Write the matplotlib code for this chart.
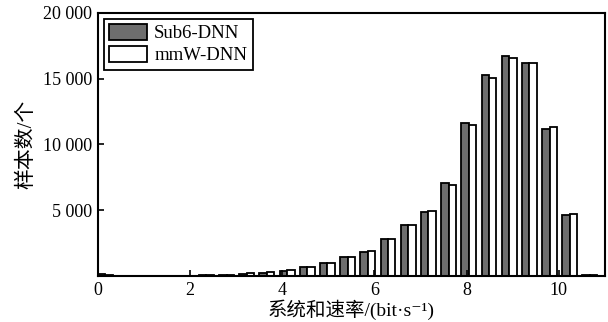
import numpy as np
import matplotlib
matplotlib.use('Agg')
import matplotlib.pyplot as plt

plt.rcParams['font.family'] = ['Liberation Serif', 'Noto Sans CJK SC', 'DejaVu Sans']
plt.rcParams['font.size'] = 13

# histogram data: 25 bins over the sum-rate range
bin_width = 0.438
n_bins = 25
sub6_counts = [150, 0, 0, 0, 20, 50, 100, 180, 250, 380, 680, 1010, 1420, 1800, 2790,
               3850, 4870, 7050, 11660, 15280, 16750, 16170, 11180, 4610, 60]
mmw_counts = [100, 0, 0, 0, 30, 60, 110, 190, 280, 430, 680, 1010, 1420, 1870, 2840,
              3850, 4920, 6950, 11480, 15080, 16600, 16170, 11300, 4710, 100]
series_names = ['Sub6-DNN', 'mmW-DNN']
x_ticks = [0, 2, 4, 6, 8, 10]
y_ticks = [5000, 10000, 15000, 20000]
y_tick_labels = ['5 000', '10 000', '15 000', '20 000']

edges = np.arange(n_bins) * bin_width
bw = 0.37 * bin_width

fig = plt.figure(figsize=(6.08, 3.22), dpi=100)
ax = fig.add_axes([0.161, 0.143, 0.834, 0.817])

ax.bar(edges + bw / 2, sub6_counts, width=bw, color='#6e6e6e', edgecolor='black',
       linewidth=1.3, label=series_names[0])
ax.bar(edges + 1.5 * bw, mmw_counts, width=bw, color='white', edgecolor='black',
       linewidth=1.3, label=series_names[1])

ax.set_xlim(0, 11)
ax.set_ylim(0, 20000)
ax.set_xticks(x_ticks)
ax.set_yticks(y_ticks)
ax.set_yticklabels(y_tick_labels)
ax.tick_params(direction='in', length=4, width=1.2, top=False, right=False, pad=4)
for s in ax.spines.values():
    s.set_linewidth(1.5)

ax.set_xlabel('系统和速率/(bit·s⁻¹)', labelpad=1, fontsize=14)
ax.set_ylabel('样本数/个', labelpad=5, fontsize=15)

leg = ax.legend(loc='upper left', frameon=True, fancybox=False, edgecolor='black',
                framealpha=1, borderpad=0.3, handlelength=2.0, handleheight=0.9,
                handletextpad=0.4, labelspacing=0.2, borderaxespad=0.3, fontsize=13.5)
leg.get_frame().set_linewidth(1.3)

fig.savefig('out.png', dpi=100)
